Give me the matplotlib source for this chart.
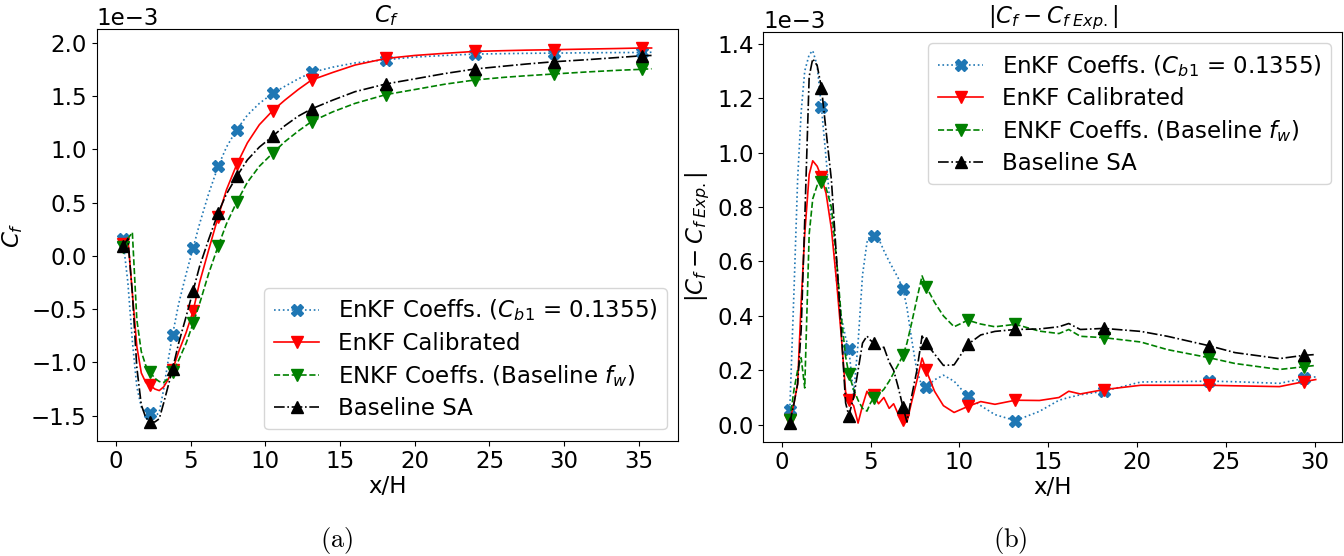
import matplotlib
matplotlib.use("Agg")
import matplotlib.pyplot as plt

# ---------------- (a) skin friction coefficient ----------------
x_a = [0.47, 0.8, 1.1, 1.4, 1.7, 2.0, 2.29, 2.6, 2.9, 3.2, 3.5, 3.79, 4.2, 4.7,
       5.17, 5.6, 6.2, 6.84, 7.4, 8.09, 8.8, 9.6, 10.5, 11.3, 12.2, 13.1, 14.5,
       16.0, 18.08, 20.0, 22.0, 24.03, 26.0, 27.5, 29.3, 31.5, 33.5, 35.2, 35.85]
marks_a = [0, 6, 11, 14, 17, 19, 22, 25, 28, 31, 34, 37]

cf_cb1 = [0.153, -0.25, -0.8, -1.23, -1.42, -1.48, -1.474, -1.51, -1.47, -1.25,
          -0.98, -0.742, -0.45, -0.17, 0.075, 0.30, 0.58, 0.839, 1.02, 1.185,
          1.32, 1.43, 1.525, 1.59, 1.66, 1.721, 1.77, 1.81, 1.84, 1.865, 1.88,
          1.893, 1.897, 1.90, 1.902, 1.905, 1.907, 1.908, 1.91]
cf_cal = [0.11, 0.17, -0.35, -0.85, -1.1, -1.19, -1.216, -1.25, -1.265, -1.23,
          -1.16, -1.07, -0.9, -0.72, -0.517, -0.25, 0.05, 0.365, 0.62, 0.858,
          1.06, 1.23, 1.363, 1.46, 1.56, 1.65, 1.72, 1.79, 1.852, 1.88, 1.90,
          1.918, 1.925, 1.93, 1.934, 1.94, 1.945, 1.95, 1.95]
cf_fw = [0.084, 0.16, 0.22, -0.6, -0.9, -1.03, -1.091, -1.15, -1.18, -1.19,
         -1.15, -1.094, -0.98, -0.82, -0.633, -0.45, -0.17, 0.09, 0.30, 0.505,
         0.69, 0.84, 0.964, 1.07, 1.17, 1.26, 1.35, 1.43, 1.513, 1.56, 1.61,
         1.65, 1.675, 1.69, 1.706, 1.725, 1.74, 1.75, 1.755]
cf_sa = [0.09, 0.16, -0.35, -1.05, -1.4, -1.52, -1.559, -1.56, -1.53, -1.38,
         -1.22, -1.063, -0.82, -0.57, -0.327, -0.1, 0.15, 0.402, 0.58, 0.746,
         0.9, 1.02, 1.123, 1.22, 1.31, 1.379, 1.46, 1.54, 1.613, 1.66, 1.71,
         1.753, 1.78, 1.80, 1.821, 1.84, 1.86, 1.877, 1.88]

# ---------------- (b) absolute error against experiment ----------------
x_b = [0.46, 0.7, 0.9, 1.1, 1.3, 1.55, 1.75, 2.0, 2.24, 2.5, 2.8, 3.1, 3.35,
       3.6, 3.78, 4.05, 4.3, 4.55, 4.8, 5.0, 5.18, 5.45, 5.75, 6.05, 6.3, 6.55,
       6.83, 7.05, 7.3, 7.6, 7.9, 8.13, 8.6, 9.1, 9.7, 10.47, 11.2, 12.0, 13.15,
       14.5, 15.6, 16.15, 16.8, 18.12, 20.2, 21.7, 24.06, 25.5, 28.0, 29.37,
       30.04]
marks_b = [0, 8, 14, 20, 26, 31, 35, 38, 43, 46, 49]

err_cb1 = [0.055, 0.5, 0.9, 1.15, 1.30, 1.36, 1.375, 1.32, 1.166, 0.98, 0.75,
           0.52, 0.4, 0.32, 0.279, 0.11, 0.3, 0.55, 0.67, 0.70, 0.695, 0.685,
           0.64, 0.6, 0.57, 0.54, 0.498, 0.43, 0.32, 0.2, 0.14, 0.139, 0.165,
           0.182, 0.16, 0.104, 0.07, 0.037, 0.015, 0.049, 0.09, 0.1, 0.11,
           0.123, 0.157, 0.158, 0.16, 0.158, 0.152, 0.17, 0.176]
err_cal = [0.018, 0.08, 0.15, 0.45, 0.7, 0.92, 0.97, 0.95, 0.91, 0.85, 0.72,
           0.52, 0.33, 0.12, 0.09, 0.07, 0.006, 0.07, 0.123, 0.1, 0.11, 0.077,
           0.1, 0.06, 0.077, 0.04, 0.018, 0.01, 0.08, 0.16, 0.245, 0.2, 0.123,
           0.07, 0.045, 0.067, 0.085, 0.075, 0.09, 0.089, 0.1, 0.123, 0.113,
           0.129, 0.145, 0.145, 0.145, 0.143, 0.14, 0.158, 0.166]
err_fw = [0.018, 0.13, 0.2, 0.246, 0.135, 0.7, 0.83, 0.88, 0.892, 0.87, 0.8,
          0.6, 0.4, 0.25, 0.187, 0.13, 0.09, 0.06, 0.05, 0.08, 0.098, 0.11,
          0.13, 0.16, 0.19, 0.22, 0.255, 0.3, 0.37, 0.46, 0.547, 0.508, 0.45,
          0.4, 0.36, 0.384, 0.37, 0.36, 0.369, 0.344, 0.335, 0.35, 0.325, 0.32,
          0.304, 0.276, 0.246, 0.225, 0.203, 0.213, 0.218]
err_sa = [0.006, 0.08, 0.15, 0.35, 0.75, 1.28, 1.345, 1.32, 1.239, 1.08, 0.9,
          0.6, 0.35, 0.08, 0.033, 0.1, 0.2, 0.3, 0.326, 0.31, 0.301, 0.277,
          0.285, 0.23, 0.2, 0.14, 0.064, 0.01, 0.1, 0.197, 0.326, 0.299, 0.26,
          0.218, 0.22, 0.295, 0.33, 0.343, 0.35, 0.352, 0.36, 0.372, 0.35,
          0.354, 0.343, 0.325, 0.29, 0.265, 0.243, 0.255, 0.258]

labels = [r"EnKF Coeffs. ($C_{b1}$ = 0.1355)", "EnKF Calibrated",
          r"ENKF Coeffs. (Baseline $f_w$)", "Baseline SA"]
styles = [dict(color="#1f77b4", ls=":", marker="X"),
          dict(color="red", ls="-", marker="v"),
          dict(color="green", ls="--", marker="v"),
          dict(color="black", ls="-.", marker="^")]

FS = 16.5
plt.rcParams.update({"font.size": FS, "axes.titlesize": FS,
                     "axes.labelsize": FS, "xtick.labelsize": FS,
                     "ytick.labelsize": FS, "legend.fontsize": FS})

W, H = 1344, 556
fig = plt.figure(figsize=(W / 100, H / 100), dpi=100)


def px_axes(l, t, r, b):
    return fig.add_axes([l / W, 1 - b / H, (r - l) / W, (b - t) / H])


ax1 = px_axes(96.5, 29.3, 678, 440.7)
ax2 = px_axes(763.5, 32, 1342, 441.7)

for ys, lab, st in zip([cf_cb1, cf_cal, cf_fw, cf_sa], labels, styles):
    ax1.plot(x_a, [v * 1e-3 for v in ys], label=lab, lw=1.2, ms=9,
             markevery=marks_a, **st)
for ys, lab, st in zip([err_cb1, err_cal, err_fw, err_sa], labels, styles):
    ax2.plot(x_b, [v * 1e-3 for v in ys], label=lab, lw=1.2, ms=9,
             markevery=marks_b, **st)

ax1.set_title(r"$C_f$", pad=5)
ax1.set_xlabel("x/H", labelpad=1)
ax1.set_ylabel(r"$C_f$")
ax1.legend(loc="lower right", borderaxespad=0.5, labelspacing=0.36)

ax2.set_title(r"$|C_f - C_{f\ Exp.}|$", pad=5)
ax2.set_xlabel("x/H", labelpad=1)
ax2.set_ylabel(r"$|C_f - C_{f\ Exp.}|$")
ax2.legend(loc="upper right", borderaxespad=0.5, labelspacing=0.36)

for ax in (ax1, ax2):
    ax.ticklabel_format(axis="y", style="sci", scilimits=(0, 0))

fig.text(337 / W, 1 - 540 / H, r"$\mathrm{(a)}$", ha="center", va="center",
         fontsize=19, math_fontfamily="cm")
fig.text(1010 / W, 1 - 540 / H, r"$\mathrm{(b)}$", ha="center", va="center",
         fontsize=19, math_fontfamily="cm")

fig.savefig("out.png", dpi=100)
